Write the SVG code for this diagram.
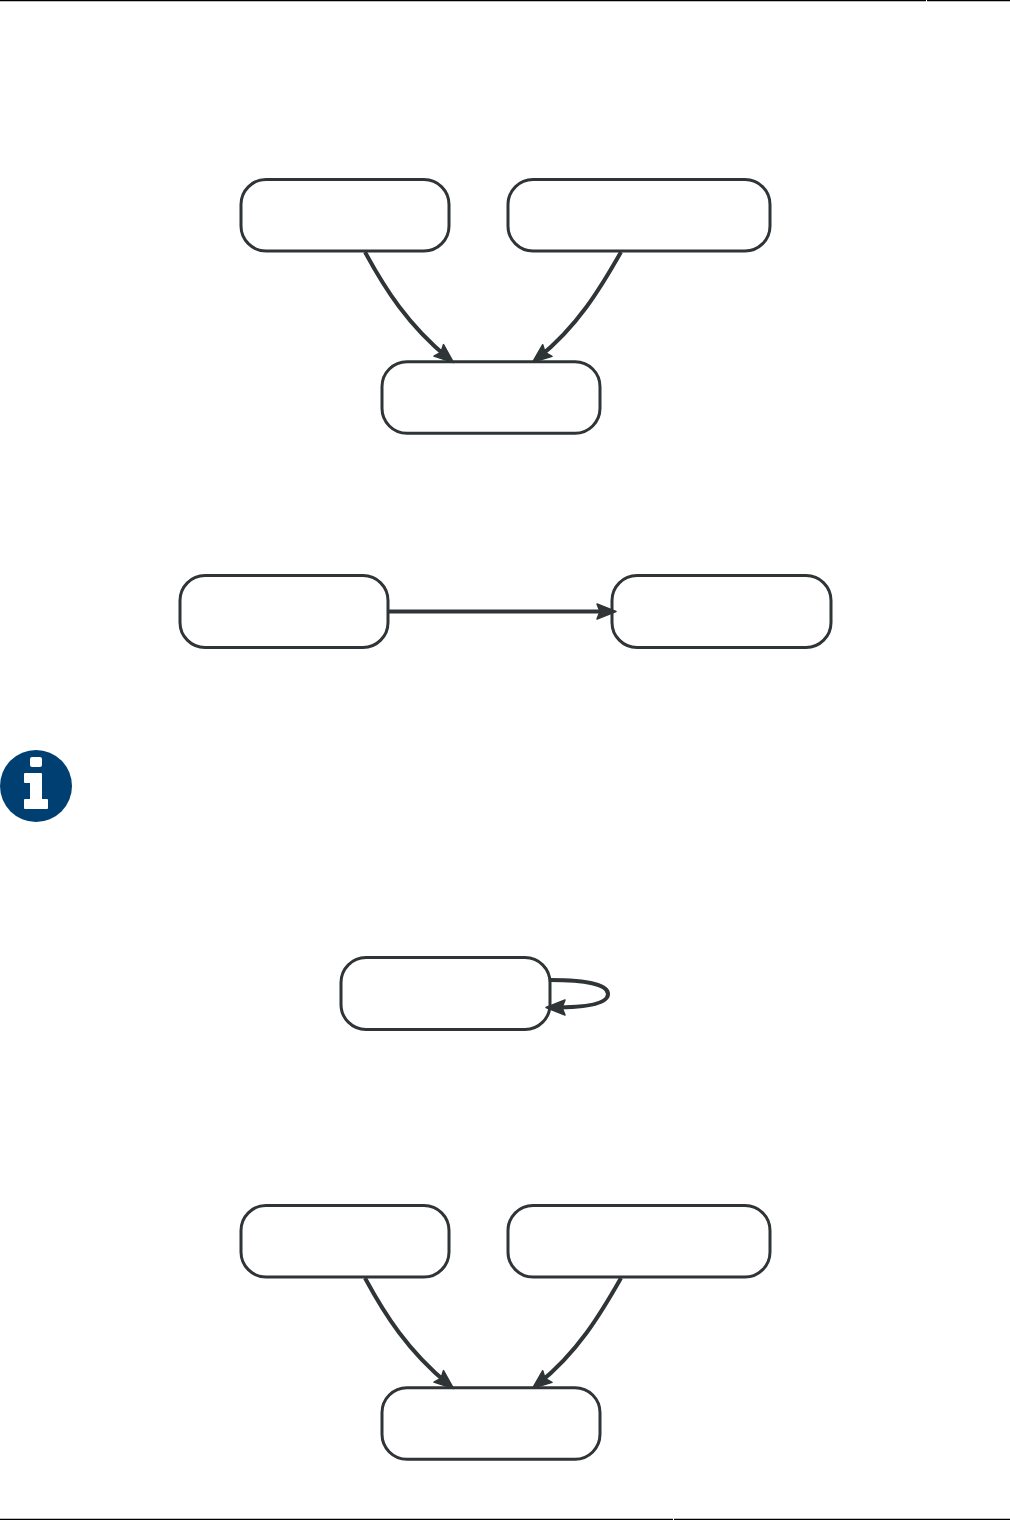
<svg xmlns="http://www.w3.org/2000/svg" width="1010" height="1520" viewBox="0 0 1010 1520">
<style>
.n{fill:#fff;stroke:#2f3436;stroke-width:3}
.e{fill:none;stroke:#2f3436;stroke-width:4}
.h{fill:#2f3436;stroke:#2f3436;stroke-width:1.5;stroke-linejoin:round}
</style>
<defs>
<marker id="a" markerUnits="userSpaceOnUse" markerWidth="26" markerHeight="24" refX="15" refY="12" orient="auto">
<path class="h" d="M22 12L3 4.5L6 12L3 19.5Z"/>
</marker>
</defs>
<rect width="1010" height="1520" fill="#fff"/>
<path d="M0 .5H926M927 .5H1010M0 1519.5H673M674 1519.5H1010" stroke="#000" stroke-width="1.5" fill="none"/>
<g id="n1"><rect class="n" x="241" y="179.5" width="208" height="71.5" rx="25"/></g>
<g id="n2"><rect class="n" x="508" y="179.5" width="262" height="71.5" rx="25"/></g>
<g id="n3"><rect class="n" x="382" y="361.7" width="218" height="71.6" rx="25"/></g>
<g id="n4"><rect class="n" x="180" y="575.5" width="208" height="72" rx="25"/></g>
<g id="n5"><rect class="n" x="612" y="575.5" width="219" height="72" rx="25"/></g>
<g id="n6"><rect class="n" x="341" y="957.5" width="209" height="72" rx="25"/></g>
<g id="n7"><rect class="n" x="241" y="1205.5" width="208" height="71.5" rx="25"/></g>
<g id="n8"><rect class="n" x="508" y="1205.5" width="262" height="71.5" rx="25"/></g>
<g id="n9"><rect class="n" x="382" y="1387.7" width="218" height="71.6" rx="25"/></g>
<g id="connectors">
<path class="e" d="M365 252C385 289 408 325 448 358" marker-end="url(#a)"/>
<path class="e" d="M621 252C600 289 577 327 538 358" marker-end="url(#a)"/>
<path class="e" d="M389 611.5H609" marker-end="url(#a)"/>
<path class="e" d="M550 980C585 980 608 984 608 994C608 1004 585 1007.5 553 1007.5" marker-end="url(#a)"/>
<path class="e" d="M365 1278C385 1315 408 1351 448 1384" marker-end="url(#a)"/>
<path class="e" d="M621 1278C600 1315 577 1353 538 1384" marker-end="url(#a)"/>
</g>
<g id="info">
<circle cx="36" cy="786" r="36" fill="#003f72"/>
<rect x="30" y="757" width="12" height="10" rx="2" fill="#fff"/>
<path d="M25 773H41Q42 773 42 774V799H47Q48 799 48 800V808Q48 809 47 809H25Q24 809 24 808V800Q24 799 25 799H30V783H25Q24 783 24 782V774Q24 773 25 773Z" fill="#fff"/>
</g>
</svg>
